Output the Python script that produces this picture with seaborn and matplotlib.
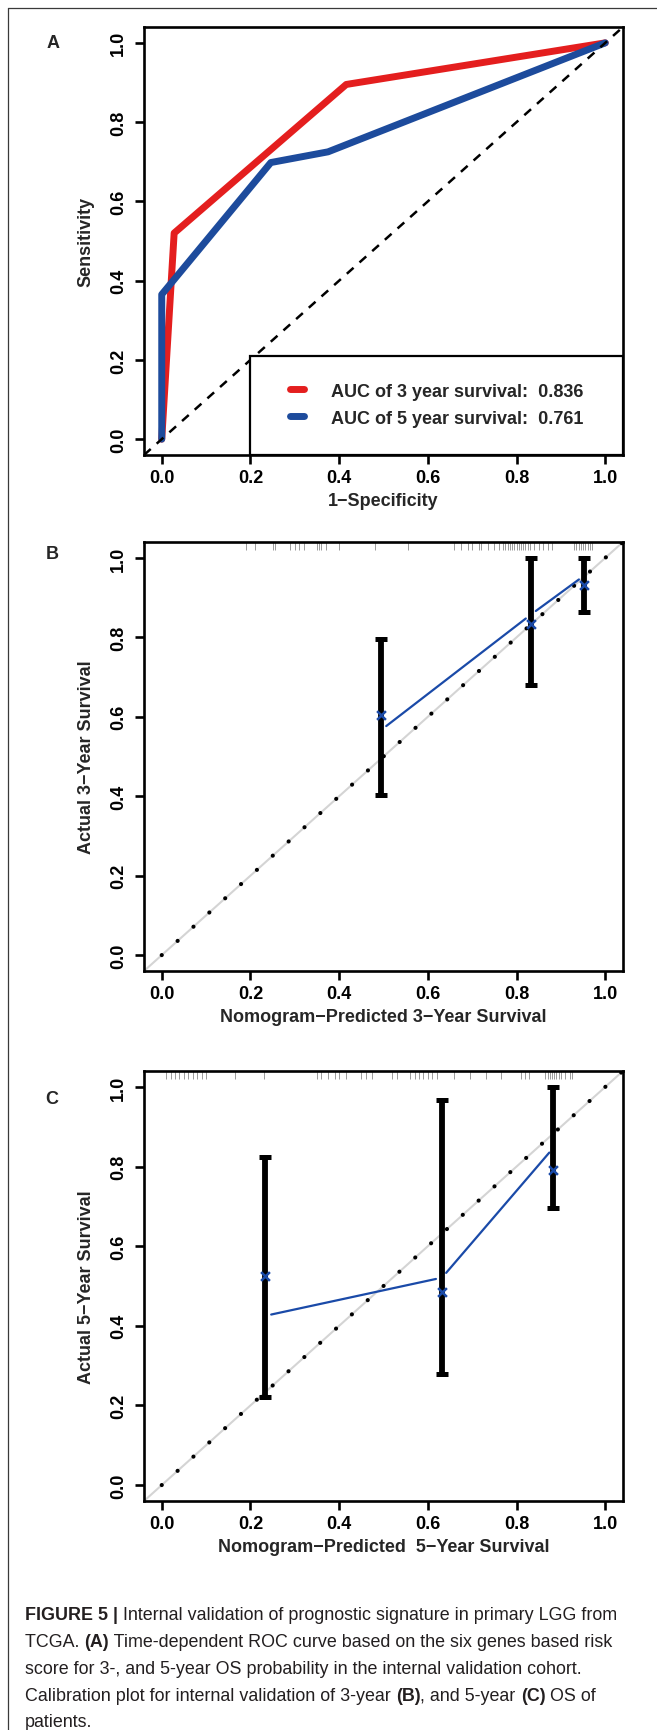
import numpy as np
import pandas as pd
import matplotlib
matplotlib.use("Agg")
import matplotlib.pyplot as plt
import seaborn as sns
from matplotlib.patches import Rectangle
from matplotlib.lines import Line2D

# ---------------- data ----------------
roc3_fpr = [0.0, 0.028, 0.416, 1.0]
roc3_tpr = [0.0, 0.520, 0.895, 1.0]
roc5_fpr = [0.0, 0.0, 0.246, 0.375, 1.0]
roc5_tpr = [0.0, 0.365, 0.698, 0.725, 1.0]
auc_labels = ["AUC of 3 year survival:  0.836", "AUC of 5 year survival:  0.761"]

cal3_pred = [0.495, 0.832, 0.952]
cal3_obs = [0.567, 0.857, 0.955]
cal3_low = [0.403, 0.680, 0.865]
cal3_high = [0.796, 1.000, 1.000]
cal3_corr = [0.604, 0.834, 0.932]
rug3 = [0.19, 0.21, 0.25, 0.255, 0.29, 0.30, 0.31, 0.32, 0.35, 0.355, 0.36, 0.37,
        0.40, 0.48, 0.555, 0.66, 0.675, 0.69, 0.70, 0.715, 0.72, 0.735, 0.75, 0.76,
        0.77, 0.775, 0.78, 0.785, 0.79, 0.795, 0.80, 0.805, 0.81, 0.815, 0.82, 0.825,
        0.83, 0.84, 0.85, 0.86, 0.87, 0.88, 0.93, 0.935, 0.94, 0.945, 0.95, 0.955,
        0.96, 0.965, 0.97]

cal5_pred = [0.233, 0.632, 0.883]
cal5_obs = [0.425, 0.521, 0.847]
cal5_low = [0.221, 0.278, 0.696]
cal5_high = [0.823, 0.967, 1.000]
cal5_corr = [0.525, 0.484, 0.792]
rug5 = [0.01, 0.02, 0.03, 0.04, 0.05, 0.06, 0.07, 0.08, 0.09, 0.10, 0.165, 0.23,
        0.35, 0.36, 0.375, 0.39, 0.40, 0.415, 0.45, 0.46, 0.475, 0.52, 0.53, 0.56,
        0.57, 0.58, 0.59, 0.60, 0.61, 0.62, 0.66, 0.695, 0.73, 0.765, 0.81, 0.82,
        0.827, 0.865, 0.87, 0.875, 0.88, 0.885, 0.89, 0.895, 0.90, 0.91, 0.92, 0.926]

ticks = [0.0, 0.2, 0.4, 0.6, 0.8, 1.0]
tick_labels = ["0.0", "0.2", "0.4", "0.6", "0.8", "1.0"]

xlabels = ["1\u2212Specificity",
           "Nomogram\u2212Predicted 3\u2212Year Survival",
           "Nomogram\u2212Predicted  5\u2212Year Survival"]
ylabels = ["Sensitivity", "Actual 3\u2212Year Survival", "Actual 5\u2212Year Survival"]
panel_letters = ["A", "B", "C"]

caption_lines = [
    [("FIGURE 5 | ", "bold"), ("Internal validation of prognostic signature in primary LGG from", "normal")],
    [("TCGA. ", "normal"), ("(A)", "bold"), (" Time-dependent ROC curve based on the six genes based risk", "normal")],
    [("score for 3-, and 5-year OS probability in the internal validation cohort.", "normal")],
    [("Calibration plot for internal validation of 3-year ", "normal"), ("(B)", "bold"),
     (", and 5-year ", "normal"), ("(C)", "bold"), (" OS of", "normal")],
    [("patients.", "normal")],
]

# ---------------- style ----------------
sns.set_style("ticks")
plt.rcParams["font.family"] = ["Liberation Sans", "DejaVu Sans"]

RED = "#E41E1E"
BLUE = "#1D4B9C"
CAL_BLUE = "#1A4AA8"
FS = 13

W, H = 657, 1731
fig = plt.figure(figsize=(W / 100, H / 100), dpi=100)
fig.patch.set_facecolor("white")

boxes = [(28, 456), (543, 972), (1072, 1502)]
axes = []
for top, bot in boxes:
    ax = fig.add_axes([144 / W, 1 - bot / H, 479 / W, (bot - top) / H])
    axes.append(ax)


def style(ax, xl, yl):
    ax.set_xlim(-0.04, 1.04)
    ax.set_ylim(-0.04, 1.04)
    ax.set_xticks(ticks)
    ax.set_xticklabels(tick_labels, fontweight="bold", fontsize=FS)
    ax.set_yticks(ticks)
    ax.set_yticklabels(tick_labels, fontweight="bold", fontsize=FS, rotation=90, va="center")
    for s in ax.spines.values():
        s.set_visible(True)
        s.set_linewidth(1.9)
        s.set_color("black")
    ax.tick_params(axis="both", direction="out", length=6.5, width=1.9, color="black", labelcolor="black")
    ax.tick_params(axis="x", pad=3.6)
    ax.tick_params(axis="y", pad=5.8)
    ax.set_xlabel(xl, fontweight="bold", fontsize=FS, labelpad=4)
    ax.set_ylabel(yl, fontweight="bold", fontsize=FS, labelpad=11)
    ax.grid(False)
    ax.set_facecolor("white")


for ax, xl, yl in zip(axes, xlabels, ylabels):
    style(ax, xl, yl)

# ---------------- Panel A: ROC ----------------
axA = axes[0]
sns.lineplot(x=roc3_fpr, y=roc3_tpr, ax=axA, sort=False, estimator=None, color=RED, lw=5,
             solid_capstyle="round", solid_joinstyle="round", zorder=2)
sns.lineplot(x=roc5_fpr, y=roc5_tpr, ax=axA, sort=False, estimator=None, color=BLUE, lw=5,
             solid_capstyle="round", solid_joinstyle="round", zorder=2.1)
axA.axline((0, 0), (1, 1), color="black", lw=1.8, dashes=(3.6, 3.2), zorder=3)

axA.add_patch(Rectangle((0.2, -0.04), 0.84, 0.25, transform=axA.transData,
                        facecolor="white", edgecolor="black", lw=1.6, zorder=5))
handles = [Line2D([], [], color=RED, lw=5, solid_capstyle="round"),
           Line2D([], [], color=BLUE, lw=5, solid_capstyle="round")]
leg = axA.legend(handles, auc_labels, loc="center left", bbox_to_anchor=(0.289, 0.087),
                 bbox_transform=axA.transData, frameon=False, borderpad=0, borderaxespad=0,
                 prop={"weight": "bold", "size": FS}, handlelength=0.8, handletextpad=1.45,
                 labelspacing=0.55)
leg.set_zorder(6)

# ---------------- Panels B, C: calibration ----------------
cal_sets = [(cal3_pred, cal3_obs, cal3_low, cal3_high, cal3_corr, rug3),
            (cal5_pred, cal5_obs, cal5_low, cal5_high, cal5_corr, rug5)]
for ax, (pred, obs, low, high, corr, rug) in zip(axes[1:], cal_sets):
    pred = np.asarray(pred); obs = np.asarray(obs)
    low = np.asarray(low); high = np.asarray(high)
    lim_hi = ax.get_xlim()[1]
    # ideal line (light grey) and dotted reference
    ax.axline((0, 0), (1, 1), color="#D4D4D4", lw=1.5, zorder=1)
    ax.plot([0, lim_hi], [0, lim_hi], color="black", lw=3.0, dashes=(0.01, 5.1),
            dash_capstyle="round", zorder=1.5)
    # rug of predicted values at the top
    ax.vlines(rug, 1 - 8 / 429, 1, transform=ax.get_xaxis_transform(),
              color="#8A8A8A", lw=0.6, zorder=1)
    # observed calibration line with gaps (type "b")
    for i in range(len(pred) - 1):
        ax.annotate("", xy=(pred[i + 1], obs[i + 1]), xytext=(pred[i], obs[i]),
                    xycoords="data", textcoords="data",
                    arrowprops=dict(arrowstyle="-", color=CAL_BLUE, lw=1.6,
                                    shrinkA=4.5, shrinkB=4.5), zorder=2)
    ax.errorbar(pred, obs, yerr=[obs - low, high - obs], fmt="none", ecolor="black",
                elinewidth=4.2, capsize=4.5, capthick=3.6, zorder=4)
    sns.scatterplot(x=pred, y=corr, ax=ax, marker="x", s=40, color=CAL_BLUE,
                    linewidth=1.8, zorder=5)

# ---------------- panel letters ----------------
for letter, (px, py) in zip(panel_letters, [(53, 44), (52, 555), (52, 1099)]):
    fig.text(px / W, 1 - py / H, letter, fontweight="bold", fontsize=FS,
             ha="center", va="center")

# ---------------- outer frame ----------------
fig.add_artist(Line2D([8 / W, 8 / W], [0, 1 - 9 / H], transform=fig.transFigure,
                      color="#3A3A3A", lw=0.9))
fig.add_artist(Line2D([8 / W, 1], [1 - 9 / H, 1 - 9 / H], transform=fig.transFigure,
                      color="#3A3A3A", lw=0.9))

# ---------------- caption ----------------
cap = fig.add_axes([0, 0, 1, 1])
cap.set_xlim(0, W)
cap.set_ylim(H, 0)
cap.axis("off")
cap_family = ["Liberation Sans Narrow", "Liberation Sans", "DejaVu Sans"]
baselines = [1620, 1647, 1674, 1701, 1727]
for pieces, yb in zip(caption_lines, baselines):
    prev = None
    for txt, wt in pieces:
        if prev is None:
            prev = cap.text(25, yb, txt, fontsize=12.9, fontweight=wt, family=cap_family,
                            color="#231F20", ha="left", va="baseline")
        else:
            prev = cap.annotate(txt, xy=(1, 0), xycoords=prev, fontsize=12.9, fontweight=wt,
                                family=cap_family, color="#231F20", ha="left", va="bottom")

fig.savefig("out.png", dpi=100, facecolor="white")
